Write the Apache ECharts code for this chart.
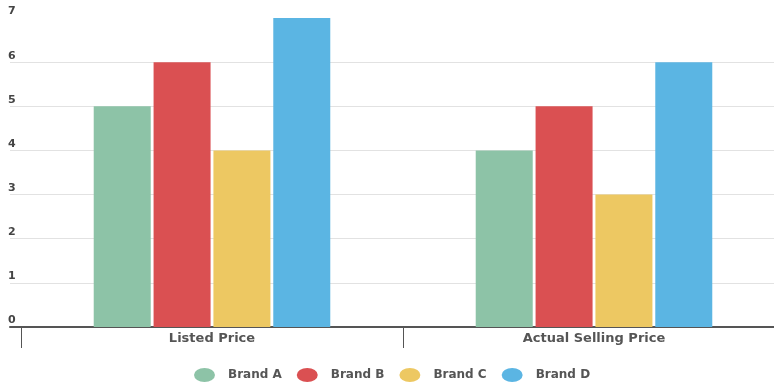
<!DOCTYPE html>
<html>
<head>
<meta charset="utf-8">
<style>
  html, body { margin: 0; padding: 0; background: #fff; overflow: hidden; }
  #chart { width: 785px; height: 385px; }
</style>
<script src="https://cdn.jsdelivr.net/npm/echarts@6/dist/echarts.min.js"></script>
</head>
<body>
<div id="chart"></div>
<script>
// Price comparison per brand
const categories = ['Listed Price', 'Actual Selling Price'];
const brandNames = ['Brand A', 'Brand B', 'Brand C', 'Brand D'];
const brandA = [5, 4];
const brandB = [6, 5];
const brandC = [4, 3];
const brandD = [7, 6];
const yTicks = [0, 1, 2, 3, 4, 5, 6, 7];

const colors = ['#8dc3a7', '#da5052', '#edc862', '#5bb5e3'];
const seriesValues = [brandA, brandB, brandC, brandD];

const ellipse = 'path://M0,10 A10,10 0 1,1 20,10 A10,10 0 1,1 0,10 Z';
const font = '"DejaVu Sans", Roboto, sans-serif';

const chart = echarts.init(document.getElementById('chart'));

// The canvas runs a little past the visible page so the last category band
// ends beyond the right edge. grid 0 carries the value scale, split lines
// and base line; grid 1 carries the category bands and the bars.
const gridTop = 18, gridBottom = 58;

chart.setOption({
  animation: false,
  color: colors,
  grid: [
    { left: 10, right: 11, top: gridTop, bottom: gridBottom },
    { left: 21, right: 0, top: gridTop, bottom: gridBottom }
  ],
  legend: {
    data: brandNames.map(n => ({ name: n, icon: ellipse })),
    symbolKeepAspect: false,
    left: 189,
    top: 363,
    itemWidth: 21,
    itemHeight: 14,
    itemGap: 15,
    textStyle: { color: '#555', fontSize: 12, fontWeight: 'bold', fontFamily: font, padding: [0, 0, 0, 8] }
  },
  xAxis: [
    {
      gridIndex: 0, type: 'value', min: 0, max: 1,
      axisLine: { show: true, onZero: false, lineStyle: { color: '#555', width: 2 } },
      axisTick: { show: false }, axisLabel: { show: false }, splitLine: { show: false }
    },
    {
      gridIndex: 1, type: 'category', data: categories,
      axisLine: { show: false },
      axisTick: { show: true, length: 21, lineStyle: { color: '#555', width: 1 } },
      axisLabel: { color: '#555', fontSize: 13, fontWeight: 'bold', fontFamily: font, margin: 5 },
      splitLine: { show: false }
    }
  ],
  yAxis: [
    {
      gridIndex: 0, type: 'value', min: yTicks[0], max: yTicks[yTicks.length - 1], interval: 1,
      axisLine: { show: false }, axisTick: { show: false },
      axisLabel: {
        color: '#444', fontSize: 11, fontWeight: 'bold', fontFamily: font,
        align: 'left', verticalAlign: 'bottom', margin: 2, padding: [0, 0, 1, 0]
      },
      splitLine: {
        show: true,
        lineStyle: {
          color: yTicks.map((v, i) => i === yTicks.length - 1 ? 'rgba(0,0,0,0)' : '#e2e2e2'),
          width: 1
        }
      }
    },
    {
      gridIndex: 1, type: 'value', min: yTicks[0], max: yTicks[yTicks.length - 1], interval: 1,
      show: false, splitLine: { show: false }
    }
  ],
  series: brandNames.map((name, i) => ({
    name: name,
    type: 'bar',
    xAxisIndex: 1,
    yAxisIndex: 1,
    data: seriesValues[i],
    barWidth: 57,
    barGap: '5%',
    itemStyle: { color: colors[i] }
  }))
});
</script>
</body>
</html>
